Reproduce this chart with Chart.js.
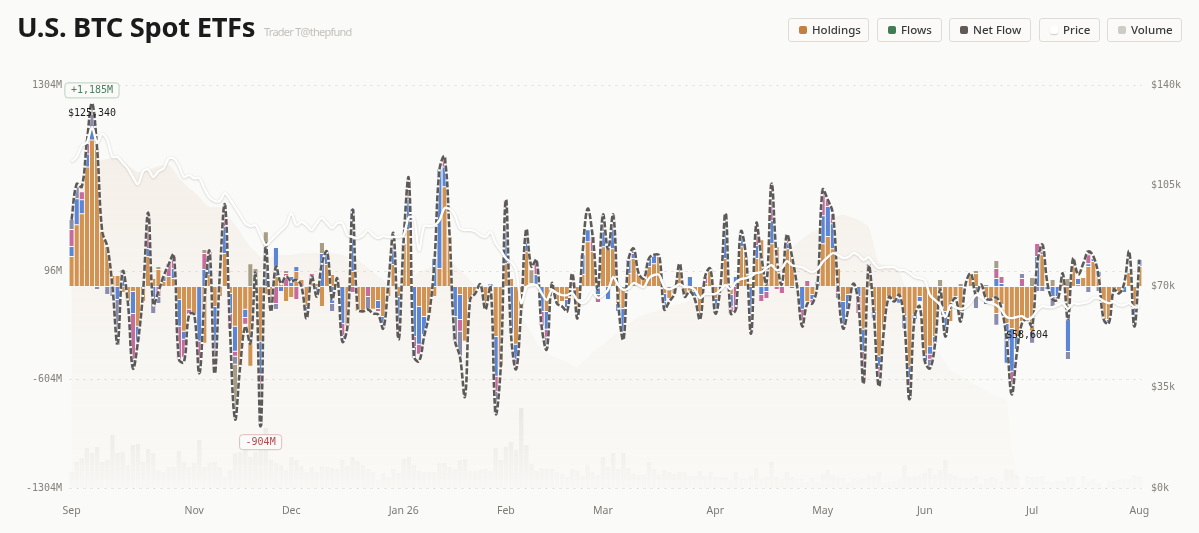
<!DOCTYPE html>
<html>
<head>
<meta charset="utf-8">
<title>U.S. BTC Spot ETFs</title>
<script src="https://cdn.jsdelivr.net/npm/chart.js@4"></script>
<style>
  html, body { margin: 0; padding: 0; background: #fafaf8; }
  #wrap { position: relative; width: 1199px; height: 533px; overflow: hidden; }
  canvas { position: absolute; left: 0; top: 0; }
  h1 { position: absolute; left: 17px; top: 8px; margin: 0; font: 700 27.3px/38px "Noto Sans", sans-serif; color: #1b1b1b; letter-spacing: -0.3px; }
  .sub { position: absolute; left: 264px; top: 24px; font: 400 11px/16px "Noto Sans", sans-serif; color: #c4c1bb; letter-spacing: -0.75px; }
  .btn { position: absolute; top: 18px; height: 22px; box-sizing: content-box; border: 1px solid #dfdcd5; border-radius: 3px; background: #fbfaf8; font: 500 11.5px/22px "Noto Sans", sans-serif; color: #3a3a38; white-space: nowrap; }
  .btn i { position: absolute; left: 10px; top: 7px; width: 8px; height: 8px; border-radius: 2px; }
  .btn span { position: absolute; left: 23px; top: 0; }
</style>
</head>
<body>
<div id="wrap">
  <canvas id="chart" width="1199" height="533"></canvas>
  <h1>U.S. BTC Spot ETFs</h1>
  <div class="sub">Trader T@thepfund</div>
  <div class="btn" style="left:788px;width:79px"><i style="background:#c27f42"></i><span>Holdings</span></div>
  <div class="btn" style="left:877px;width:63px"><i style="background:#3f7d54"></i><span>Flows</span></div>
  <div class="btn" style="left:949px;width:80px"><i style="background:#5f5a55"></i><span>Net Flow</span></div>
  <div class="btn" style="left:1039px;width:59px"><i style="background:#ffffff;box-shadow:0 1px 1px #cfccc6"></i><span>Price</span></div>
  <div class="btn" style="left:1107px;width:73px"><i style="background:#cfccc4"></i><span>Volume</span></div>
</div>
<script>
// month labels and the bar they sit under
var tickIndex = [0, 24, 43, 65, 85, 104, 126, 147, 167, 188, 209];
var tickNames = ['Sep', 'Nov', 'Dec', 'Jan 26', 'Feb', 'Mar', 'Apr', 'May', 'Jun', 'Jul', 'Aug'];

// daily flow per fund, $M
var orange = [
  194,400,471,774,948,890,355,258,71,71,
  -39,-97,-32,-258,-97,194,52,110,32,65,
  52,-84,-290,-148,-181,0,-368,77,-129,-65,
  213,-45,-258,-516,-148,-516,0,-355,-52,-148,
  65,19,-97,-71,97,45,-129,32,19,-129,
  142,77,52,0,-258,97,-161,-161,0,-148,
  -90,-194,-65,142,-65,277,368,0,-129,-194,
  -174,-65,116,645,323,0,-52,-355,-84,-45,
  13,-148,0,-323,-516,148,52,-374,-148,226,
  19,0,0,-161,19,-110,-97,-84,65,-194,
  77,290,226,0,258,239,245,-110,-142,84,
  181,84,52,129,148,194,-45,-77,-45,110,
  -65,-32,-32,-213,19,97,-77,-13,181,-52,
  0,258,194,19,181,303,19,277,258,0,
  245,194,13,0,-97,-52,0,277,323,245,
  116,-97,-52,0,0,-277,129,-161,-452,-277,
  -65,-97,-77,-194,-516,-181,-65,-439,-387,-323,
  -19,-161,-226,-65,-161,0,84,84,6,-84,
  -77,-174,-116,-239,-271,-323,-226,-213,-290,0,
  206,0,0,0,52,-194,161,13,58,129,
  161,65,-213,-213,-26,-45,0,90,-129,129
];
var blue = [
  65,168,90,84,84,0,0,0,0,-84,
  110,0,-142,-97,0,52,-84,0,32,0,
  65,-174,-52,0,0,-355,110,65,-271,0,
  174,-129,-161,0,-52,0,0,-213,258,0,
  187,-32,0,65,32,0,-77,0,-65,213,
  84,-110,0,-239,0,406,0,0,0,0,
  -52,-77,0,97,-161,0,194,-323,-245,-116,
  0,181,645,129,0,-194,-161,0,0,0,
  0,0,19,-258,0,239,-303,-97,0,58,
  0,77,-161,-116,0,0,0,-52,0,0,
  129,77,0,-52,97,-84,142,-52,-200,90,
  32,0,0,52,58,0,-52,0,0,39,
  0,65,-32,0,0,0,-97,0,181,-77,
  65,65,0,-226,84,-52,-32,148,0,0,
  32,-13,0,-148,0,-32,32,181,194,161,
  0,-161,-97,0,-65,-142,0,-45,-65,0,
  0,0,-32,-77,-77,-32,-32,-45,-52,-45,
  0,-110,0,-13,0,0,0,0,0,-32,
  0,52,19,-258,-277,-84,0,0,0,194,
  0,-19,-65,-65,0,-226,0,39,0,19,
  19,32,0,-19,0,0,-39,0,-97,45
];
var pink = [
  110,0,52,65,0,0,0,0,0,0,
  0,0,-297,0,0,226,0,-65,0,84,
  77,-213,-116,-32,0,-206,103,84,-161,0,
  142,-97,-32,0,-45,0,0,-97,0,0,
  -110,0,84,0,-84,0,0,52,0,0,
  0,0,0,-77,0,-39,0,0,-65,0,
  -19,0,0,84,-97,0,129,-65,-65,0,
  0,0,0,65,0,0,-77,0,0,0,
  0,0,0,-97,0,174,0,-65,0,84,
  0,84,-97,-52,0,0,0,0,0,0,
  6,0,97,-52,0,0,77,0,0,0,
  32,0,0,0,0,0,0,0,0,0,
  0,0,0,0,45,19,0,0,110,-45,
  -148,32,0,0,110,-45,-45,239,-19,-45,
  65,0,0,-97,39,-26,0,161,45,65,
  -39,0,0,0,-110,-206,0,0,-129,0,
  0,0,0,0,-52,0,0,0,-32,0,
  0,0,0,0,0,0,0,0,0,0,
  0,65,45,0,-77,0,52,0,0,84,
  19,0,0,-19,0,0,0,0,0,58,
  0,0,0,0,0,0,-6,0,0,0
];
var slate = [
  65,77,0,0,84,-19,0,-52,-65,-297,
  0,0,-58,0,0,0,-90,-45,0,0,
  0,0,0,0,0,0,0,0,0,0,
  0,0,-52,0,0,0,0,-239,0,0,
  -39,0,0,0,0,0,0,0,0,0,
  0,-52,0,-39,0,0,0,0,-77,0,
  0,0,0,0,0,0,0,-77,0,0,
  0,0,0,0,0,-161,-161,0,0,0,
  0,0,0,-142,0,0,0,0,0,0,
  0,0,0,-77,0,0,0,0,0,0,
  0,0,0,0,110,0,0,0,0,0,
  0,0,0,0,0,0,-52,0,0,0,
  0,0,0,0,0,0,0,0,0,0,
  0,0,0,-77,0,0,0,0,0,0,
  0,0,0,0,0,0,0,0,0,0,
  -39,0,0,0,0,0,19,0,0,0,
  0,0,0,0,-84,0,0,0,-58,0,
  0,0,0,0,-65,0,0,-142,0,0,
  0,-77,0,0,-71,0,32,0,-77,-32,
  -32,0,-65,0,0,-52,0,0,0,-39,
  0,-32,0,0,0,0,0,0,-32,0
];
var tan = [
  0,0,0,0,65,0,0,0,0,0,
  0,0,0,0,0,0,0,19,0,0,
  0,0,0,0,0,0,26,0,0,0,
  0,0,-355,0,0,148,116,0,97,0,
  0,0,19,0,0,0,0,0,0,71,
  0,0,0,0,0,0,0,0,0,0,
  0,0,0,0,0,0,0,0,0,0,
  0,0,0,0,0,0,0,0,0,0,
  0,0,0,0,0,0,0,0,0,0,
  90,0,0,0,0,0,0,0,0,0,
  0,0,0,0,0,0,0,0,0,0,
  0,0,0,0,0,0,0,0,0,0,
  0,0,0,0,0,0,0,0,0,0,
  0,0,0,0,0,0,0,0,0,0,
  0,0,0,0,0,0,0,0,0,0,
  0,0,0,0,0,0,0,0,0,0,
  0,0,0,0,0,0,0,0,0,0,
  45,0,0,0,19,0,0,19,0,13,
  0,52,0,0,0,0,0,0,58,0,
  52,0,45,0,0,52,0,0,0,32,
  0,0,0,0,0,0,0,0,0,0
];

// net flow, $M
var netFlow = [
  432,664,645,935,1185,890,355,258,0,-368,
  97,-97,-529,-355,-32,477,-116,-32,65,142,
  206,-471,-490,-181,-181,-561,-97,226,-561,65,
  529,-271,-858,-516,-258,-368,84,-904,271,-161,
  129,19,65,32,45,0,-206,65,-65,148,
  226,-84,52,-355,-258,497,-148,-161,-148,-174,
  -181,-271,19,342,-342,303,697,-452,-484,-323,
  -174,148,755,839,323,-342,-452,-710,-84,-45,
  13,-148,0,-819,-516,561,-303,-535,-148,368,
  129,174,-258,-406,19,-110,-129,-161,84,-206,
  213,503,323,-19,464,239,464,-110,-342,174,
  245,84,52,181,206,200,-148,-97,-45,148,
  -65,-32,-84,-213,65,116,-174,0,471,-174,
  -148,355,194,-303,406,194,19,664,194,13,
  335,194,0,-258,-110,-110,19,626,561,471,
  0,-271,-148,19,-110,-626,129,-174,-645,-277,
  -65,-97,-52,-239,-729,-194,-129,-484,-529,-368,
  -19,-323,-129,-77,-226,19,84,-52,13,-77,
  -84,-71,-142,-342,-697,-432,-239,-213,-258,148,
  271,19,-84,-84,84,-213,181,77,148,226,
  194,65,-213,-239,-19,-45,19,226,-258,174
];

// BTC price, $k
var price = [
  113.3,115,119,120,125.34,120,123,121,115,115,
  113,111,108,105.5,110,110.7,108,110,111,114.5,
  114.5,112,108,108.7,107.6,107.6,104,101,99.7,99.7,
  102.4,100.3,97.6,94.8,92,91,91.3,87.8,84.4,86,
  87.8,89.6,91.3,95.5,91.3,92.4,91.3,89.6,92,93.8,
  92,90.3,92,92,87.8,87.2,86.8,87.8,89.6,87.8,
  86.8,87.5,87.2,87.2,87.2,87.8,94,93.8,82.6,91,
  91,91.3,93,97.2,96.9,94.8,90.3,89.6,89.6,89.2,
  87.8,87.2,88.9,85,82.6,79.8,78.5,75.7,64.2,69.8,
  70.5,70.5,67.7,65.3,68.8,67.7,67,67,67.7,65.3,
  64.2,65.3,68,66,67,68.8,73.3,70.5,68.8,69.4,
  71.2,70.5,69.8,72.9,74,74,69.8,69,69.8,70.8,
  69.8,69.8,68.8,66,67.4,67.4,67.4,68.8,70.5,69,
  71.5,72.6,72.9,73.6,74.7,75,76.4,77.4,75.7,76.4,
  78.8,77.4,77,76.7,75.7,75,76,78.5,80.2,81.6,
  80.9,79.9,80.2,81.6,80.9,79.2,80.2,78.1,76.4,76.7,
  76.7,76.7,75.7,75.7,74.7,73.3,72.9,72.2,67,65.3,
  63.5,59.4,63.5,62.8,62.2,62.8,64.6,67,66.3,64.6,
  64.2,63.5,61.8,59.4,59,59.4,59.7,58.604,59.4,61.8,
  63.2,62.8,62.8,63.5,64.2,62.2,64.2,63.9,64.2,64.6,
  66,66,64.9,64.2,64.6,63.5,63.5,64.2,62.8,62.8
];

// total holdings and traded volume, $100M
var holdings = [
  288,298,308,316,323,326,328,329,330,330,
  328,323,319,316,316,318,320,322,323,323,
  318,310,305,300,296,291,285,281,281,281,
  276,270,263,256,248,241,236,231,230,231,
  232,233,233,233,234,235,235,235,235,235,
  235,235,234,233,231,230,228,224,220,216,
  212,208,203,203,205,208,210,213,216,218,
  220,223,226,228,226,223,218,213,208,203,
  198,195,193,190,188,186,185,183,173,163,
  155,146,138,135,132,130,128,126,123,121,
  126,130,136,140,143,148,152,156,160,164,
  168,171,173,175,176,178,180,181,183,184,
  185,188,191,193,194,195,197,198,199,200,
  201,202,203,204,205,206,208,214,220,228,
  234,240,245,249,253,256,258,262,266,269,
  272,273,272,270,268,265,261,243,225,223,
  221,219,216,203,191,178,168,158,148,140,
  133,126,118,115,112,109,106,103,100,97,
  94,92,90,88,38,18,0,0,0,0,
  0,0,0,0,0,0,0,0,0,0,
  0,0,0,0,0,0,0,0,0,0
];
var volume = [
  16,26,30,40,35,41,26,28,53,35,
  36,23,43,44,26,39,35,18,16,21,
  21,37,26,21,25,48,21,25,26,21,
  11,18,35,36,38,31,36,38,60,28,
  25,23,18,31,28,22,16,21,16,22,
  21,20,19,28,22,31,27,23,19,16,
  8,15,11,19,15,29,31,23,17,16,
  16,16,25,25,21,19,28,29,17,17,
  18,19,17,40,28,41,46,38,80,43,
  24,17,20,19,19,16,14,11,19,17,
  12,23,16,13,31,21,35,19,35,20,
  14,13,13,26,19,13,18,16,14,16,
  16,12,12,17,12,16,11,11,11,8,
  16,9,9,12,20,9,11,26,11,9,
  16,11,9,9,6,10,6,14,18,13,
  11,10,6,9,8,9,13,12,16,6,
  7,7,9,23,11,11,12,15,20,13,
  18,28,14,12,10,10,10,12,5,9,
  11,9,7,19,18,13,2,12,11,11,
  12,7,6,7,7,11,11,1,12,7,
  9,5,1,7,7,8,9,9,13,11
];

var leftTicks = [-1304, -604, 96, 1304];
var pageBg = '#fafaf8';
var monoFont = '"DejaVu Sans Mono", monospace';

var labels = price.map((p, i) => {
    var at = tickIndex.indexOf(i);
    return at >= 0 ? tickNames[at] : '';
});

var ctx = document.getElementById('chart').getContext('2d');

var areaFill = ctx.createLinearGradient(0, 150, 0, 488);
areaFill.addColorStop(0, 'rgba(214,170,132,0.13)');
areaFill.addColorStop(0.55, 'rgba(214,170,132,0.05)');
areaFill.addColorStop(1, 'rgba(214,170,132,0.01)');
var volFill = ctx.createLinearGradient(0, 405, 0, 488);
volFill.addColorStop(0, 'rgba(150,146,136,0.15)');
volFill.addColorStop(1, 'rgba(150,146,136,0.02)');

function flowBar(label, data, color) {
    return {
        type: 'bar', label: label, data: data, backgroundColor: color,
        borderColor: pageBg, borderWidth: { top: 0.5, bottom: 0.5, left: 0, right: 0 },
        borderSkipped: false, stack: 'flows', yAxisID: 'y', order: 5, grouped: false,
        barPercentage: 0.86, categoryPercentage: 1
    };
}

// soft grey edge round the white price line, and the badges
var chartExtras = {
    id: 'chartExtras',
    beforeDatasetDraw(chart, args) {
        if (chart.data.datasets[args.index].label === 'Price') {
            chart.ctx.save();
            chart.ctx.shadowColor = 'rgba(90,85,75,0.3)';
            chart.ctx.shadowBlur = 2;
            chart.ctx.shadowOffsetY = 0.5;
        }
    },
    afterDatasetDraw(chart, args) {
        if (chart.data.datasets[args.index].label === 'Price') chart.ctx.restore();
    },
    afterDraw(chart) {
        var c = chart.ctx, x = chart.scales.x, y = chart.scales.y, yp = chart.scales.yPrice;
        var hi = netFlow.indexOf(Math.max(...netFlow)), lo = netFlow.indexOf(Math.min(...netFlow));
        var pHi = price.indexOf(Math.max(...price)), pLo = price.indexOf(Math.min(...price));
        badge(c, '+' + netFlow[hi].toLocaleString('en-US') + 'M', x.getPixelForValue(hi), y.getPixelForValue(netFlow[hi]) - 13, '#4d7f5c', '#bcd0c1');
        badge(c, netFlow[lo] + 'M', x.getPixelForValue(lo), y.getPixelForValue(netFlow[lo]) + 16, '#b8474a', '#e3bcbc');
        priceTag(c, '$125,340', x.getPixelForValue(pHi), yp.getPixelForValue(price[pHi]) - 14);
        priceTag(c, '$58,604', x.getPixelForValue(pLo), yp.getPixelForValue(price[pLo]) + 16);
    }
};

function badge(c, text, cx, cy, color, edge) {
    c.save();
    c.font = '500 10px ' + monoFont;
    var w = c.measureText(text).width + 12;
    c.beginPath();
    c.roundRect(cx - w / 2, cy - 7.5, w, 15, 3);
    c.fillStyle = pageBg;
    c.fill();
    c.strokeStyle = edge;
    c.stroke();
    c.fillStyle = color;
    c.textAlign = 'center';
    c.textBaseline = 'middle';
    c.fillText(text, cx, cy + 0.5);
    c.restore();
}

function priceTag(c, text, cx, cy) {
    c.save();
    c.font = '500 10px ' + monoFont;
    c.fillStyle = '#1d1d1b';
    c.textAlign = 'center';
    c.textBaseline = 'middle';
    c.fillText(text, cx, cy);
    c.restore();
}

new Chart(ctx, {
    data: {
        labels: labels,
        datasets: [
            { type: 'line', label: 'Holdings', data: holdings, yAxisID: 'yVol', order: 10, fill: 'origin',
              backgroundColor: areaFill, borderWidth: 0, pointRadius: 0, tension: 0.3 },
            { type: 'bar', label: 'Volume', data: volume, yAxisID: 'yVol', order: 9, backgroundColor: volFill,
              grouped: false, barPercentage: 0.86, categoryPercentage: 1 },
            flowBar('IBIT', orange, '#d29352'),
            flowBar('FBTC', blue, '#5b86d8'),
            flowBar('ARKB', pink, '#c66b9d'),
            flowBar('BITB', slate, '#8b8bab'),
            flowBar('Other', tan, '#a89d85'),
            { type: 'line', label: 'Net Flow edge', data: netFlow, yAxisID: 'y', stack: 'netEdge', order: 3, fill: false,
              borderColor: pageBg, borderWidth: 2.8, pointRadius: 0, tension: 0.4 },
            { type: 'line', label: 'Net Flow', data: netFlow, yAxisID: 'y', stack: 'net', order: 2, fill: false,
              borderColor: '#5c5a58', borderWidth: 2.6, borderDash: [6, 2], pointRadius: 0, tension: 0.4 },
            { type: 'line', label: 'Price', data: price, yAxisID: 'yPrice', order: 1, fill: false,
              borderColor: '#ffffff', borderWidth: 2.4, pointRadius: 0, tension: 0.3 }
        ]
    },
    options: {
        responsive: false,
        animation: false,
        layout: { padding: { top: 85, left: 0, right: 0, bottom: 0 } },
        plugins: { legend: { display: false }, tooltip: { enabled: false } },
        scales: {
            x: {
                stacked: true,
                grid: { display: false },
                border: { display: false },
                afterFit: (s) => { s.height = 45; },
                ticks: {
                    autoSkip: false, maxRotation: 0, padding: 9,
                    color: '#7d7a75', font: { family: '"Noto Sans", sans-serif', size: 10.5 }
                }
            },
            y: {
                stacked: true, position: 'left', min: -1304, max: 1304,
                border: { display: false, dash: [3, 4] },
                grid: { color: '#e9e6df', drawTicks: false },
                afterFit: (s) => { s.width = 69; },
                afterBuildTicks: (s) => { s.ticks = leftTicks.map((v) => ({ value: v })); },
                ticks: {
                    padding: 7, color: '#85827c', font: { family: monoFont, size: 10 },
                    callback: (v) => v + 'M'
                }
            },
            yPrice: {
                position: 'right', min: 0, max: 140,
                border: { display: false },
                grid: { display: false, drawTicks: false },
                afterFit: (s) => { s.width = 57; },
                ticks: {
                    stepSize: 35, padding: 9, color: '#85827c', font: { family: monoFont, size: 10 },
                    callback: (v) => '$' + v + 'k'
                }
            },
            yVol: { display: false, min: 0, max: 403 }
        }
    },
    plugins: [chartExtras]
});
</script>
</body>
</html>
